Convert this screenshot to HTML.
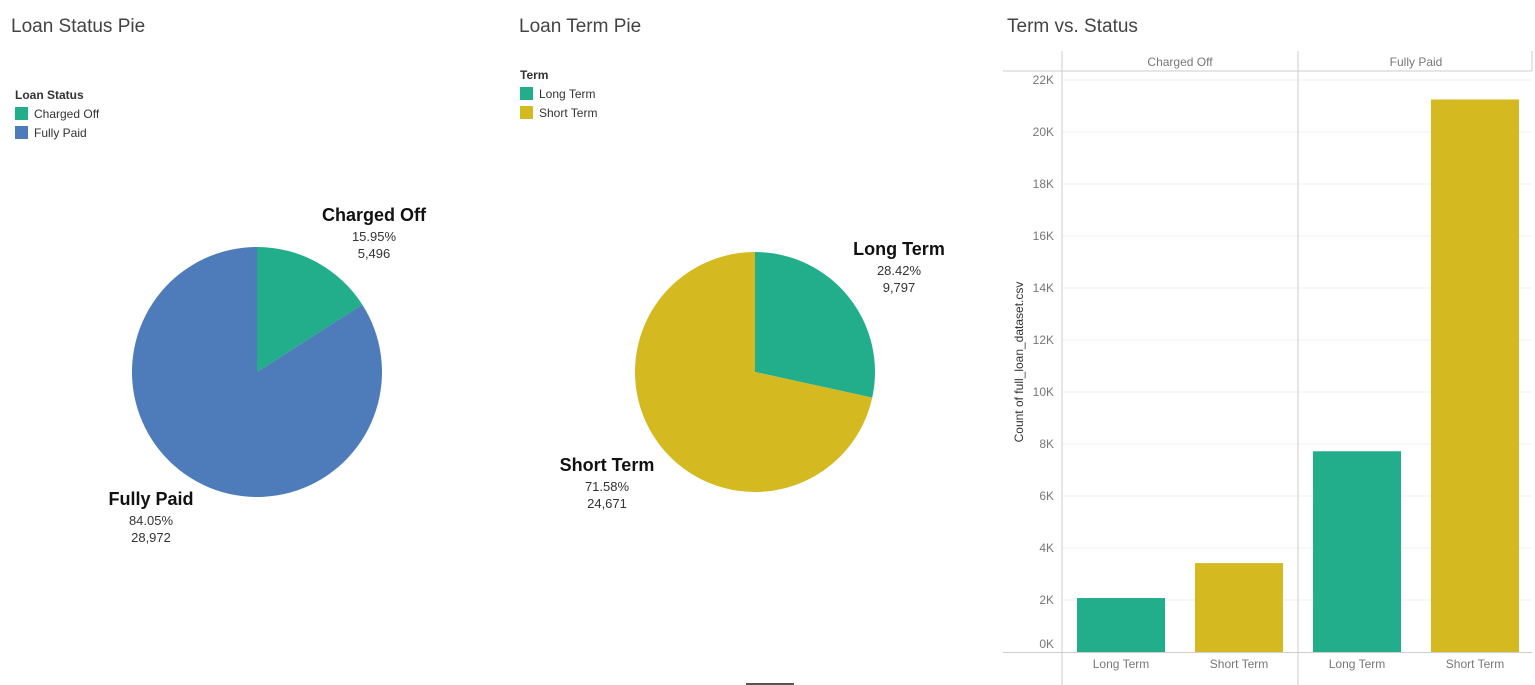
<!DOCTYPE html>
<html><head><meta charset="utf-8"><style>
body{margin:0;width:1535px;height:685px;background:#fff;font-family:"Liberation Sans",sans-serif;overflow:hidden;position:relative}
.t{position:absolute;font-size:19px;color:#444}
.lg{position:absolute;font-size:12px;color:#333}
.sw{display:inline-block;width:13px;height:13px;vertical-align:-2px;margin-right:6px}
svg{position:absolute;left:0;top:0}
</style></head><body>
<div class="t" style="left:11px;top:16px">Loan Status Pie</div>
<div class="t" style="left:519px;top:16px">Loan Term Pie</div>
<div class="t" style="left:1007px;top:16px">Term vs. Status</div>
<div class="lg" style="left:15px;top:88px">
<div style="font-weight:bold;margin-bottom:5px">Loan Status</div>
<div style="margin-bottom:5px"><span class="sw" style="background:#22ae8a"></span>Charged Off</div>
<div><span class="sw" style="background:#4e7bba"></span>Fully Paid</div></div>
<div class="lg" style="left:520px;top:68px">
<div style="font-weight:bold;margin-bottom:5px">Term</div>
<div style="margin-bottom:5px"><span class="sw" style="background:#22ae8a"></span>Long Term</div>
<div><span class="sw" style="background:#d4b921"></span>Short Term</div></div>
<svg width="1535" height="685" id="s" font-family="Liberation Sans, sans-serif"></svg>
<script>
const statusCats=["Charged Off","Fully Paid"];
const statusVals=[5496,28972];
const termCats=["Long Term","Short Term"];
const termVals=[9797,24671];
const barGroups=["Charged Off","Fully Paid"];
const barCats=["Long Term","Short Term"];
const barVals=[[2076,3420],[7721,21251]];
const yTicks=[0,2000,4000,6000,8000,10000,12000,14000,16000,18000,20000,22000];
const yTickLabels=["0K","2K","4K","6K","8K","10K","12K","14K","16K","18K","20K","22K"];
const s=document.getElementById('s');const NS='http://www.w3.org/2000/svg';
function mk(t,a,txt){const e=document.createElementNS(NS,t);for(const k in a)e.setAttribute(k,a[k]);if(txt!=null)e.textContent=txt;s.appendChild(e);return e;}
const colors={"Charged Off":"#22ae8a","Fully Paid":"#4e7bba","Long Term":"#22ae8a","Short Term":"#d4b921"};
function pie(cx,cy,r,cats,vals,labels){
 const tot=vals.reduce((a,b)=>a+b,0);let a0=0;
 cats.forEach((c,i)=>{const f=vals[i]/tot;const a1=a0+f*2*Math.PI;
  const p=(a)=>[cx+r*Math.sin(a),cy-r*Math.cos(a)];const [x0,y0]=p(a0),[x1,y1]=p(a1);
  const el=mk('path',{d:`M${cx},${cy}L${x0},${y0}A${r},${r} 0 ${f>0.5?1:0} 1 ${x1},${y1}Z`,fill:colors[c]});
  
  
  const [lx,ly]=labels[i];
  const g1=mk('text',{x:lx,y:ly,'text-anchor':'middle','font-size':18,'font-weight':'bold',fill:'#111'},c);
  
  
  mk('text',{x:lx,y:ly+20,'text-anchor':'middle','font-size':13,fill:'#333'},(f*100).toFixed(2)+'%');
  mk('text',{x:lx,y:ly+37,'text-anchor':'middle','font-size':13,fill:'#333'},vals[i].toLocaleString('en-US'));
  a0=a1;});
}
pie(257,372,125,statusCats,statusVals,[[374,221],[151,505]]);
pie(755,372,120,termCats,termVals,[[899,255],[607,471]]);
const y0=652,pxPer=52/2000;const Y=v=>y0-v*pxPer;
const left=1062,mid=1298,right=1532;
yTicks.forEach((t,i)=>{if(t>0)mk('line',{x1:left,x2:right,y1:Y(t),y2:Y(t),stroke:'#f0f0f0'});
 const ly=t===0?Y(t)-4:Y(t)+4;
 const l=mk('text',{x:1054,y:ly,'text-anchor':'end','font-size':12,fill:'#777'},yTickLabels[i]);
 
 });
mk('line',{x1:1003,x2:right,y1:71,y2:71,stroke:'#ccc'});
mk('line',{x1:1003,x2:right,y1:652.5,y2:652.5,stroke:'#ccc'});
[left,mid].forEach(x=>mk('line',{x1:x,x2:x,y1:51,y2:685,stroke:'#ccc'}));
mk('line',{x1:right,x2:right,y1:51,y2:71,stroke:'#ccc'});
const gw=mid-left;
barGroups.forEach((g,gi)=>{const gx=left+gi*gw;
 const h=mk('text',{x:gx+gw/2,y:66,'text-anchor':'middle','font-size':12,fill:'#777'},g);
 
 
 barCats.forEach((c,ci)=>{const cx=gx+gw*(ci+0.5)/2;const v=barVals[gi][ci];
  const b=mk('rect',{x:cx-44,y:Y(v),width:88,height:y0-Y(v),fill:colors[c]});
  
  
  const xl=mk('text',{x:cx,y:668,'text-anchor':'middle','font-size':12,fill:'#777'},c);
  
  });});
const yt=mk('text',{x:0,y:0,transform:'translate(1023,362) rotate(-90)','text-anchor':'middle','font-size':12,fill:'#333'},'Count of full_loan_dataset.csv');


mk('rect',{x:746,y:683,width:48,height:2,fill:'#555'});
</script>
</body></html>
